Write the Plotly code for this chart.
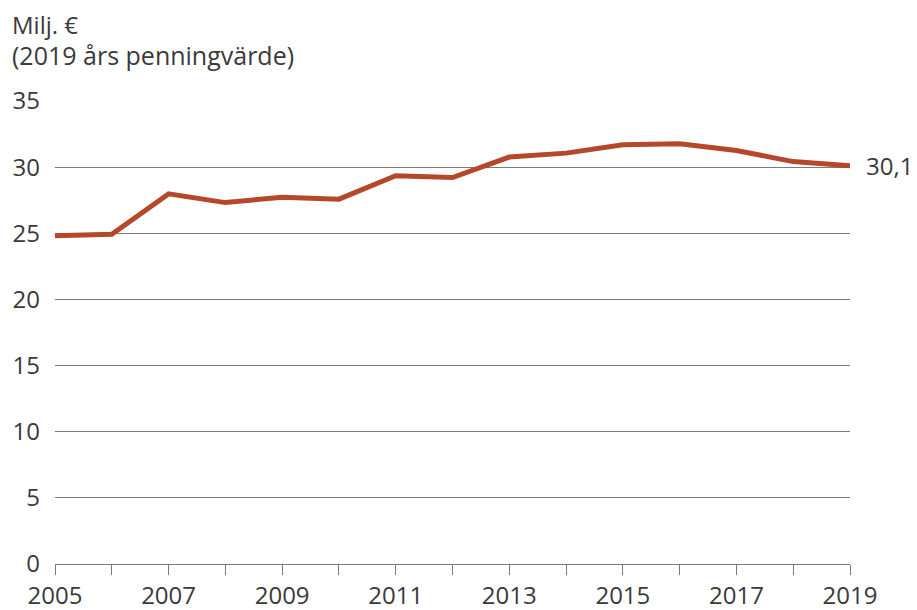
import plotly.graph_objects as go

years = list(range(2005, 2020))
values = [24.82, 24.93, 27.98, 27.32, 27.73, 27.58, 29.35, 29.21, 30.76, 31.06, 31.69, 31.77, 31.26, 30.42, 30.1]
y_ticks = [0, 5, 10, 15, 20, 25, 30, 35]
x_ticktext = [str(y) if (y - 2005) % 2 == 0 else "" for y in years]
end_label = "30,1"
title_lines = ["Milj. €", "(2019 års penningvärde)"]

FONT = "Open Sans, Lato, sans-serif"
TXT = "#3a3a3a"
LINE = "#B5472B"
GRID = "#7a7a7a"
FS = 24

# page body has an 8px margin; compensate so the plot lands on target pixels
OFF = 8
W, H = 917 - OFF, 610 - OFF
L, R, T, B = 55 - OFF, 67, 101 - OFF, 46
pw = W - L - R
ph = H - T - B

fig = go.Figure()
fig.add_trace(go.Scatter(x=years, y=values, mode="lines",
                         line=dict(color=LINE, width=5), hoverinfo="skip"))

fig.update_layout(
    width=W, height=H,
    margin=dict(l=L, r=R, t=T, b=B, autoexpand=False),
    paper_bgcolor="white", plot_bgcolor="white",
    showlegend=False,
    font=dict(family=FONT, size=FS, color=TXT),
    xaxis=dict(range=[2005, 2019], tickvals=years, ticktext=x_ticktext,
               automargin=False,
               showgrid=False, zeroline=False, showline=True,
               linecolor=GRID, linewidth=1,
               ticks="outside", ticklen=10, tickcolor=GRID, tickwidth=1,
               tickfont=dict(size=FS, color=TXT, family=FONT)),
    yaxis=dict(range=[0, 35], tickvals=y_ticks, showgrid=True, automargin=False,
               gridcolor=GRID, gridwidth=1, zeroline=False,
               showline=False, ticks="", ticklabelstandoff=14,
               tickfont=dict(size=FS, color=TXT, family=FONT)),
    annotations=[
        dict(x=2019, y=values[-1], xref="x", yref="y", text=end_label,
             showarrow=False, xanchor="left", yanchor="middle", xshift=14,
             font=dict(size=FS, color=TXT, family=FONT)),
        dict(x=(10 - OFF - L) / pw, y=(H - B - (24 - OFF)) / ph, xref="paper", yref="paper",
             text=title_lines[0],
             showarrow=False, xanchor="left", yanchor="middle",
             font=dict(size=24, color=TXT, family=FONT)),
        dict(x=(10 - OFF - L) / pw, y=(H - B - (55 - OFF)) / ph, xref="paper", yref="paper",
             text=title_lines[1],
             showarrow=False, xanchor="left", yanchor="middle",
             font=dict(size=25, color=TXT, family=FONT)),
    ],
)

fig.write_html("out.html")
